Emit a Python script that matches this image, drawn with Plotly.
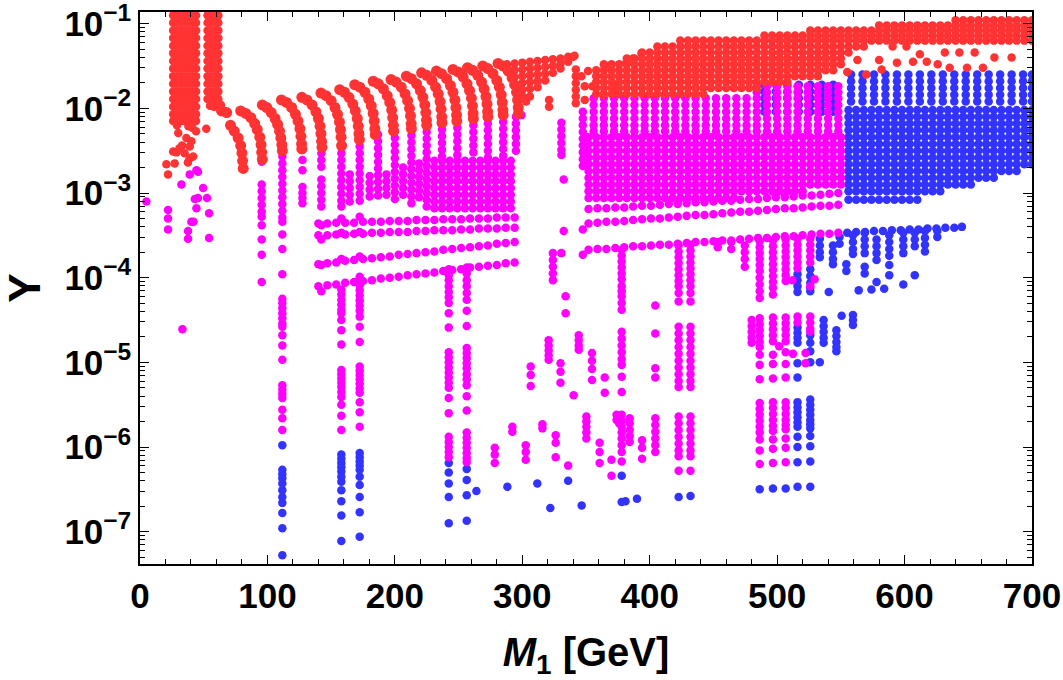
import plotly.graph_objects as go

# x = M1 in GeV, every vertical value below is log10(Y).
RED, MAG, BLUE = "#ff3333", "#ff00ff", "#3333ff"

# ---------------- red points ----------------
red_spike_x = [26, 29, 32, 35, 38, 41, 44]
red_spike_y = [-0.9, -0.99, -1.08, -1.17, -1.26, -1.35, -1.44, -1.53, -1.62, -1.71, -1.8, -1.89, -1.98, -2.07, -2.15]
red_slant_x = [53, 56, 59, 61.5]
red_slant_y = [-0.9, -0.99, -1.08, -1.17, -1.26, -1.35, -1.44, -1.53, -1.62, -1.71, -1.8, -1.89]
red_loose = [(41, -2.23), (44, -2.27), (38, -2.21), (29, -2.2), (20.7, -2.66), (22, -2.78), (26, -2.51),
             (27.2, -2.65), (28.6, -2.52), (30, -2.29), (31, -2.47), (33, -2.44), (35, -2.53), (36.4, -2.35),
             (37.6, -2.64), (39, -2.45), (39, -2.59), (40.3, -2.39), (41.7, -2.57), (52, -2.24),
             (55, -1.97), (58, -1.98), (61, -1.98), (63.5, -1.96),
             (303, -1.92), (321, -1.9), (321, -1.98), (340, -1.39),
             (342, -1.54), (342, -1.62), (342, -1.7), (342, -1.78), (342, -1.86), (342, -1.94),
             (346.4, -1.62), (349, -1.74), (349, -1.9), (351.6, -1.56), (355, -1.74), (363.4, -1.84),
             (590.6, -1.27), (601.5, -1.27), (612, -1.36), (631.6, -1.34), (643, -1.34), (655, -1.34),
             (670.5, -1.4), (684, -1.4), (555, -1.57), (563, -1.43), (570, -1.6), (580, -1.43), (582, -1.54),
             (594, -1.46), (606.6, -1.45), (617.4, -1.45), (626, -1.48), (635.4, -1.52), (649, -1.52), (661.5, -1.52)]
red_arcs = [
    [(64, -2.03), (68, -2.05), (71, -2.2), (74, -2.27), (77, -2.35), (79, -2.44), (80, -2.53), (80.5, -2.62), (81, -2.71)],
    [(79, -2.03), (83, -2.06), (87, -2.11), (90, -2.18), (92, -2.25), (94, -2.34), (95, -2.43), (95.5, -2.52), (96, -2.6)],
    [(96, -1.96), (99.5, -1.99), (103, -2.05), (106, -2.12), (108, -2.19), (109.5, -2.27), (110.5, -2.35), (111.3, -2.43), (111.7, -2.5)],
    [(111, -1.9), (115, -1.93), (119, -1.99), (122, -2.07), (124, -2.15), (125.5, -2.24), (126.3, -2.33), (126.8, -2.42), (127, -2.48)],
    [(127, -1.87), (131, -1.9), (135, -1.96), (138, -2.04), (140, -2.12), (141.3, -2.21), (142, -2.3), (142.5, -2.39), (142.8, -2.46)],
    [(142, -1.82), (146, -1.85), (150, -1.91), (153, -1.99), (155, -2.07), (156.5, -2.16), (157.3, -2.25), (157.8, -2.34), (158.2, -2.44)],
    [(156.7, -1.78), (160.5, -1.81), (164, -1.87), (167, -1.95), (169, -2.03), (170.5, -2.12), (171.3, -2.21), (171.8, -2.3), (172.2, -2.37)],
    [(168.5, -1.72), (172.5, -1.75), (176.5, -1.81), (179.5, -1.89), (181.5, -1.97), (183, -2.06), (183.8, -2.15), (184.3, -2.24), (184.6, -2.31)],
    [(183, -1.68), (187, -1.71), (191, -1.77), (194, -1.85), (196, -1.93), (197.5, -2.02), (198.3, -2.11), (198.8, -2.2), (199, -2.27)],
    [(197, -1.66), (201, -1.69), (205, -1.75), (208, -1.83), (210, -1.91), (211.5, -2.0), (212.3, -2.09), (212.8, -2.18), (213, -2.24)],
    [(209, -1.62), (213, -1.65), (217, -1.71), (220, -1.79), (222, -1.87), (223.5, -1.96), (224.3, -2.05), (224.8, -2.14), (225, -2.2)],
    [(221, -1.58), (225, -1.61), (229, -1.67), (232, -1.75), (234, -1.83), (235.5, -1.92), (236.3, -2.01), (236.8, -2.1), (237, -2.17)],
    [(232.6, -1.56), (236.6, -1.59), (240.6, -1.65), (243.6, -1.73), (245.6, -1.81), (247.1, -1.9), (247.9, -1.99), (248.4, -2.08), (248.6, -2.15)],
    [(245.6, -1.54), (249.6, -1.57), (253.6, -1.63), (256.6, -1.71), (258.6, -1.79), (260.1, -1.88), (260.9, -1.97), (261.4, -2.06), (261.6, -2.12)],
    [(257, -1.52), (261, -1.55), (265, -1.61), (268, -1.69), (270, -1.77), (271.5, -1.86), (272.3, -1.95), (272.8, -2.04), (273, -2.1)],
    [(269, -1.5), (273, -1.53), (277, -1.59), (280, -1.67), (282, -1.75), (283.5, -1.84), (284.3, -1.93), (284.8, -2.02), (285, -2.08)],
    [(281, -1.47), (285, -1.5), (289, -1.56), (292, -1.64), (294, -1.72), (295.5, -1.81), (296.3, -1.9), (296.8, -1.99), (297, -2.06)],
]
red_triangle = [(288, [-1.48, -1.56]), (294, [-1.47, -1.55, -1.63]), (300, [-1.46, -1.54, -1.62, -1.7, -1.78, -1.85]),
                (306, [-1.45, -1.53, -1.61, -1.69, -1.77, -1.86]), (312, [-1.44, -1.52, -1.6, -1.68, -1.75]),
                (318, [-1.43, -1.51, -1.59, -1.67]), (324, [-1.42, -1.5, -1.58]), (330, [-1.41, -1.47, -1.53]),
                (336, [-1.39, -1.45]), (341, [-1.38]),
                (364.7, [-1.5]), (372.5, [-1.72, -1.8]), (381.7, [-1.46]), (386.9, [-1.41]), (393.5, [-1.35])]

# scan lattice of the right half (GeV) and dense rows: (log10 Y, first M1, last M1)
lattice = [346, 352, 358, 364, 370, 376, 382, 388, 394, 400, 406, 412, 418, 424, 430, 436, 442, 448, 454, 460,
           466, 472, 478, 484, 490, 496, 502, 508, 514, 520, 526, 532, 538, 544, 550, 556, 562, 568, 574, 580,
           586, 592, 598, 604, 610, 616, 622, 628, 634, 640, 646, 652, 658, 664, 670, 676, 682, 688, 694, 700]
red_rows = [(-0.96, 640, 700), (-1.02, 580, 700), (-1.08, 526, 700), (-1.14, 490, 700), (-1.2, 424, 700),
            (-1.27, 406, 568), (-1.34, 394, 556), (-1.41, 382, 552), (-1.48, 364, 550), (-1.55, 358, 546),
            (-1.62, 358, 532), (-1.69, 358, 508), (-1.76, 358, 484), (-1.83, 358, 446)]
mag_rows = [(-2.34, 352, 550), (-2.42, 352, 550), (-2.5, 352, 550), (-2.58, 352, 550), (-2.66, 352, 550),
            (-2.74, 352, 550), (-2.82, 352, 550), (-2.9, 352, 550), (-2.98, 352, 520), (-3.06, 352, 470)]
blue_rows = [(-2.02, 556, 700), (-2.1, 556, 700), (-2.18, 556, 700), (-2.26, 556, 700), (-2.34, 556, 700),
             (-2.42, 556, 700), (-2.5, 556, 700), (-2.58, 556, 700), (-2.66, 556, 700), (-2.74, 556, 688),
             (-2.82, 556, 670), (-2.9, 556, 652), (-2.98, 556, 628), (-3.08, 556, 612)]

# ---------------- magenta points ----------------
mag_up_x = [356, 364, 372, 380, 388, 396, 404, 412, 420, 428, 436, 444, 452, 460, 468, 476, 484, 492, 500, 508, 516, 524, 532, 540, 548]
mag_up_y = [-1.88, -1.96, -2.04, -2.12, -2.2, -2.27]
mag_top_x = [484, 492, 500, 508, 516, 524, 532, 540, 548]
mag_top_y = [-1.74, -1.81]
mag_lblock_x = [231, 237, 243, 249, 255, 261, 267, 273, 279, 285, 291]
mag_lblock_y = [-2.62, -2.7, -2.78, -2.86, -2.94, -3.02, -3.1, -3.18]

row_r_x = [352, 359, 366, 373, 380, 387, 394, 401, 408, 415, 422, 429, 436, 443, 450, 457, 464, 471, 478, 485,
           492, 499, 506, 513, 520, 527, 534, 541, 548]
row_a = [-3.19, -3.18, -3.18, -3.17, -3.17, -3.16, -3.15, -3.15, -3.14, -3.13, -3.13, -3.12, -3.11, -3.11, -3.1,
         -3.09, -3.09, -3.08, -3.07, -3.07, -3.06, -3.05, -3.05, -3.04, -3.03, -3.03, -3.02, -3.01, -3.0]
row_b = [-3.36, -3.35, -3.34, -3.34, -3.33, -3.32, -3.31, -3.3, -3.3, -3.29, -3.28, -3.27, -3.26, -3.26, -3.25,
         -3.24, -3.23, -3.22, -3.22, -3.21, -3.2, -3.19, -3.18, -3.18, -3.17, -3.16, -3.15, -3.15, -3.14]
row_c = [-3.67, -3.66, -3.66, -3.65, -3.64, -3.63, -3.63, -3.62, -3.61, -3.61, -3.6, -3.59, -3.58, -3.58, -3.57,
         -3.56, -3.56, -3.55, -3.54, -3.53, -3.53, -3.52, -3.51, -3.51, -3.5, -3.49, -3.48, -3.48, -3.47]
row_l_x = [140, 147, 154, 161, 168, 175, 182, 189, 196, 203, 210, 217, 224, 231, 238, 245, 252, 259, 266, 273, 280, 287, 294]
row_l1 = [-3.36, -3.36, -3.35, -3.35, -3.35, -3.34, -3.34, -3.34, -3.33, -3.33, -3.33, -3.32, -3.32, -3.32, -3.31,
          -3.31, -3.31, -3.3, -3.3, -3.3, -3.29, -3.29, -3.29]
row_l2 = [-3.5, -3.5, -3.49, -3.49, -3.48, -3.48, -3.47, -3.47, -3.46, -3.46, -3.46, -3.45, -3.45, -3.44, -3.44,
          -3.44, -3.43, -3.43, -3.42, -3.42, -3.42, -3.41, -3.41]
row_l3 = [-3.84, -3.83, -3.82, -3.8, -3.79, -3.78, -3.77, -3.76, -3.75, -3.73, -3.72, -3.71, -3.7, -3.69, -3.67,
          -3.66, -3.65, -3.64, -3.63, -3.62, -3.6, -3.59, -3.58]
row_l4 = [-4.1, -4.09, -4.08, -4.06, -4.05, -4.04, -4.03, -4.01, -4.0, -3.99, -3.97, -3.96, -3.95, -3.94, -3.92,
          -3.91, -3.9, -3.88, -3.87, -3.86, -3.85, -3.83, -3.82]

mag_cols = [
    (95.5, [-2.63, -2.9, -2.98, -3.06, -3.14, -3.22, -3.28, -3.38, -3.55, -3.73, -4.05]),
    (111.7, [-2.57, -2.65, -2.73, -2.81, -2.89, -2.97, -3.05, -3.13, -3.21, -3.29, -3.34, -3.49, -3.66, -3.96, -4.25,
             -4.3, -4.36, -4.42, -4.48, -4.54, -4.58, -4.68, -4.8, -4.97, -5.27, -5.32, -5.37, -5.42, -5.56, -5.66, -5.8]),
    (127.5, [-2.49, -2.61, -2.73, -2.93, -3.0, -3.06, -3.12]),
    (142.3, [-2.45, -2.53, -2.61, -2.69, -2.84, -2.92, -3.0, -3.08, -3.16, -3.38, -3.55, -3.85, -4.16]),
    (158, [-2.45, -2.53, -2.61, -2.69, -2.77, -2.85, -2.93, -3.01, -3.09, -3.16, -3.3, -3.47, -3.78, -4.14, -4.2,
           -4.26, -4.32, -4.38, -4.42, -4.5, -4.62, -4.79, -5.09, -5.14, -5.19, -5.24, -5.29, -5.35, -5.41, -5.5, -5.63, -5.8]),
    (164.6, [-2.78, -2.86, -2.94, -3.02, -3.1]),
    (172.4, [-2.37, -2.45, -2.53, -2.61, -2.69, -2.77, -2.85, -2.93, -3.01, -3.09, -3.28, -3.46, -3.75, -3.99, -4.03,
             -4.09, -4.15, -4.21, -4.27, -4.33, -4.39, -4.46, -4.58, -4.76, -5.05, -5.1, -5.15, -5.2, -5.25, -5.31,
             -5.36, -5.47, -5.59, -5.76]),
    (180.2, [-2.8, -2.88, -2.96, -3.04]),
    (186.8, [-2.31, -2.39, -2.47, -2.55, -2.63, -2.71, -2.79, -2.87, -2.95, -3.03]),
    (193.4, [-2.78, -2.86, -2.94, -3.02]),
    (200, [-2.27, -2.35, -2.43, -2.51, -2.59, -2.67, -2.75, -2.83, -2.91, -2.99, -3.07]),
    (206.5, [-2.7, -2.78, -2.86, -2.94, -3.02]),
    (213, [-2.24, -2.32, -2.4, -2.48, -2.56, -2.64, -2.72, -2.8, -2.88, -2.96, -3.04, -3.12]),
    (219, [-2.65, -2.73, -2.81, -2.89, -2.97, -3.05]),
    (225, [-2.2, -2.28, -2.36, -2.44, -2.52, -2.6, -2.68, -2.76, -2.84, -2.92, -3.0, -3.08, -3.16]),
    (237, [-2.17, -2.25, -2.33, -2.41, -2.49, -2.57]),
    (249, [-2.15, -2.23, -2.31, -2.39, -2.47, -2.55]),
    (261.6, [-2.12, -2.2, -2.28, -2.36, -2.44, -2.52]),
    (273, [-2.1, -2.18, -2.26, -2.34, -2.42, -2.5, -2.58]),
    (285, [-2.08, -2.16, -2.24, -2.32, -2.4, -2.48, -2.56]),
    (295, [-2.1, -2.18, -2.26, -2.34, -2.42, -2.5]),
    (242.3, [-3.9, -3.97, -4.03, -4.1, -4.17, -4.23, -4.3, -4.42, -4.59, -4.88, -4.94, -5.0, -5.06, -5.12, -5.18,
             -5.24, -5.3, -5.42, -5.6, -5.88, -5.94, -6.0, -6.06, -6.12]),
    (256.4, [-3.88, -3.95, -4.03, -4.1, -4.18, -4.26, -4.39, -4.57, -4.83, -4.89, -4.95, -5.01, -5.07, -5.14, -5.2,
             -5.27, -5.4, -5.57, -5.83, -5.89, -5.95, -6.01, -6.07, -6.13, -6.18]),
    (299.3, [-2.08]), (330.7, [-2.17, -2.25, -2.33, -2.41, -2.49, -2.55, -3.71]), (332.5, [-2.84, -3.45]),
    (347.5, [-2.04, -2.12, -2.2, -2.28, -2.36, -2.44, -2.52, -2.6, -2.68, -3.43, -3.73]),
    (324, [-3.71, -3.79, -3.87, -3.95, -4.03]), (334, [-4.22, -4.42]),
    (378, [-3.67, -3.74, -3.81, -3.88, -3.95, -4.02, -4.1, -4.16, -4.22, -4.3, -4.38, -4.64, -4.72, -4.8, -4.88,
           -4.96, -5.03, -5.17, -5.35, -5.62, -5.69, -5.76, -5.83, -5.9, -5.98, -6.06, -6.17]),
    (404.4, [-4.33, -4.66, -5.07, -5.18, -5.66, -5.74, -5.82, -5.9, -5.98, -6.06]),
    (422.7, [-3.62, -3.69, -3.76, -3.83, -3.9, -3.97, -4.04, -4.1, -4.18, -4.28, -4.58, -4.66, -4.74, -4.82, -4.9,
             -4.98, -5.06, -5.14, -5.22, -5.29, -5.64, -5.72, -5.8, -5.88, -5.96, -6.04, -6.11, -6.28]),
    (432, [-3.61, -3.68, -3.75, -3.82, -3.89, -3.96, -4.03, -4.1, -4.18, -4.28, -4.58, -4.66, -4.74, -4.82, -4.9,
           -4.98, -5.06, -5.14, -5.22, -5.29, -5.64, -5.72, -5.8, -5.88, -5.96, -6.04, -6.11, -6.28]),
    (453.4, [-3.58, -3.64]), (464, [-3.58, -3.66]), (474.6, [-3.62, -3.7, -3.78, -3.87]),
    (480, [-4.5, -4.57, -4.64, -4.71, -4.77]),
    (486.3, [-3.57, -3.64, -3.71, -3.78, -3.85, -3.92, -4.0, -4.08, -4.16, -4.24, -4.48, -4.55, -4.62, -4.69, -4.76,
             -4.82, -4.91, -5.03, -5.2, -5.48, -5.55, -5.62, -5.69, -5.76, -5.83, -5.91, -6.04, -6.2]),
    (496.7, [-3.56, -3.63, -3.7, -3.77, -3.84, -3.91, -3.98, -4.05, -4.12, -4.2, -4.47, -4.54, -4.61, -4.68, -4.75,
             -4.91, -5.02, -5.19, -5.47, -5.54, -5.61, -5.68, -5.75, -5.81, -5.91, -6.02, -6.19]),
    (506.7, [-3.55, -3.62, -3.69, -3.76, -3.83, -3.9, -3.97, -4.04, -4.47, -4.54, -4.61, -4.68, -4.75, -4.88, -5.02,
             -5.18, -5.47, -5.54, -5.61, -5.68, -5.74, -5.79, -5.9, -6.01, -6.18]),
    (516, [-3.54, -3.61, -3.68, -3.75, -3.82, -3.89, -4.46, -4.53]),
    (526, [-3.54, -3.61, -3.68, -3.75, -3.82, -4.1, -4.46, -4.53, -4.6, -4.64]),
    (501.6, [-4.81]), (512.4, [-4.9]), (522.3, [-4.89, -5.01]), (512, [-4.03]), (529.4, [-4.02]),
]
mag_loose = [(5, -3.1), (22, -3.2), (22, -3.3), (22, -3.43), (32.5, -2.9), (37.7, -3.45), (37.7, -3.54), (39, -2.78),
             (44.3, -2.73), (44.3, -3.18), (45.5, -3.06), (52.6, -3.06), (49.5, -2.94), (40.3, -3.34), (42, -3.34),
             (54.2, -3.24), (54.2, -3.53), (33.3, -4.61), (45.5, -2.75), (43, -3.07),
             (278.4, -6.01), (278.4, -6.09), (278.4, -6.19), (292.2, -5.76), (292.2, -5.82), (302.7, -5.98),
             (302.7, -6.06), (302.7, -6.15), (306.6, -5.05), (306.6, -5.15), (306.6, -5.28), (315.8, -5.73),
             (315.8, -5.78), (320.7, -4.74), (320.7, -4.8), (320.7, -4.86), (320.7, -4.92), (320.7, -4.97),
             (326.2, -5.86), (326.2, -5.95), (326.2, -6.12), (330, -5.01), (330, -5.11), (330, -5.24), (336, -6.22),
             (340.3, -5.39), (344.3, -4.68), (344.3, -4.74), (344.3, -4.8), (344.3, -4.85), (350.3, -5.64),
             (350.3, -5.7), (350.3, -5.76), (350.3, -5.83), (350.3, -5.9), (354.7, -4.89), (354.7, -4.98),
             (354.7, -5.08), (354.7, -5.21), (360.7, -5.95), (360.7, -6.06), (360.7, -6.19), (364.7, -5.18),
             (364.7, -5.36), (370, -6.15), (370, -6.34), (374, -5.62), (374, -5.68), (376, -5.72), (384.3, -5.66),
             (384.3, -5.72), (384.3, -5.8), (384.3, -5.87), (384.3, -5.94), (394, -5.92), (394, -6.01), (394, -6.14)]

# ---------------- blue points ----------------
blue_up_x = [558, 567, 576, 585, 594, 603, 612, 621, 630, 639, 648, 657, 666, 675, 684, 693, 700]
blue_up_y = [-1.6, -1.68, -1.76, -1.84, -1.92]
blue_mid_x = [490, 499, 508, 517, 526, 535, 544]
blue_mid_y = [-1.72, -1.8, -1.88, -1.96, -2.04]
row_c_blue_x = [555, 562, 569, 576, 583, 590, 597, 604, 611, 618, 625, 632, 639, 645]
row_c_blue = [-3.47, -3.46, -3.46, -3.45, -3.45, -3.44, -3.44, -3.43, -3.43, -3.42, -3.42, -3.41, -3.41, -3.4]
blue_cols = [
    (111.7, [-5.98, -6.27, -6.32, -6.37, -6.43, -6.51, -6.59, -6.66, -6.78, -6.96, -7.28]),
    (158, [-6.09, -6.14, -6.19, -6.24, -6.29, -6.35, -6.41, -6.51, -6.64, -6.81, -7.11]),
    (172.4, [-6.07, -6.12, -6.17, -6.22, -6.27, -6.35, -6.45, -6.59, -6.77, -7.06]),
    (242.3, [-6.19, -6.3, -6.43, -6.59, -6.9]),
    (256.4, [-6.26, -6.39, -6.57, -6.87]),
    (378, [-6.34, -6.65]), (381, [-6.64]), (422.7, [-6.59]), (432, [-6.58]),
    (486.3, [-6.5]), (496.7, [-6.49]), (506.7, [-6.49]),
    (516, [-3.96, -4.03, -4.1, -4.17, -4.59, -4.65, -4.71, -4.77, -5.01, -5.18, -5.47, -5.53, -5.59, -5.65, -5.71,
           -5.76, -5.88, -6.0, -6.18, -6.47]),
    (526, [-3.9, -3.98, -4.06, -4.12, -4.16, -4.68, -4.77, -4.87, -5.0, -5.44, -5.5, -5.56, -5.62, -5.68, -5.73,
           -5.78, -5.87, -5.99, -6.17, -6.47]),
    (533.5, [-3.54, -3.62, -3.7, -3.76, -5.0]), (536.5, [-4.5, -4.57, -4.64, -4.71, -4.77]), (540.5, [-4.17]),
    (543.8, [-3.62, -3.7, -3.78, -3.84]), (546.5, [-4.62, -4.69, -4.76, -4.82, -4.87]), (549, [-3.52, -3.6]),
    (550.6, [-4.45]), (554.3, [-3.84, -3.92]), (559.5, [-3.5, -3.58, -3.66, -3.72, -4.44, -4.5, -4.56]),
    (564, [-4.15]), (574, [-4.14]), (584, [-4.13]),
    (568.7, [-3.47, -3.55, -3.63, -3.71, -3.87, -3.95]), (578, [-3.55, -3.63, -3.71, -3.79, -4.05]),
    (588, [-3.5, -3.58, -3.66, -3.74, -3.85, -3.97]), (599, [-3.47, -3.55, -3.63, -3.71, -4.08]),
    (608, [-3.47, -3.55, -3.63, -3.97]), (616, [-3.45, -3.53, -3.61, -3.69]), (625.7, [-3.45, -3.52]),
    (264, [-6.52]), (288.3, [-6.47]), (311.8, [-6.43]), (322, [-6.72]), (336, [-6.4]), (346.6, [-6.69]), (390, [-6.61]),
]


# ---------------- assemble ----------------
def new():
    return {"x": [], "y": []}


def add(acc, x, v):
    acc["x"].append(x)
    acc["y"].append(10 ** v)


def add_grid(acc, xs, vs):
    for x in xs:
        for v in vs:
            add(acc, x, v)


def add_cols(acc, cols):
    for x, vs in cols:
        for v in vs:
            add(acc, x, v)


def add_pairs(acc, pairs):
    for x, v in pairs:
        add(acc, x, v)


def add_rows(acc, rows):
    for v, a, b in rows:
        for x in lattice:
            if a <= x <= b:
                add(acc, x, v)


red, arcs, mag, blue = new(), new(), new(), new()

add_grid(red, red_spike_x, red_spike_y)
add_grid(red, red_slant_x, red_slant_y)
add_pairs(red, red_loose)
for arc in red_arcs:
    add_pairs(arcs, arc)
add_cols(red, red_triangle)
add_rows(red, red_rows)

add_rows(mag, mag_rows)
add_grid(mag, mag_up_x, mag_up_y)
add_grid(mag, mag_top_x, mag_top_y)
add_grid(mag, mag_lblock_x, mag_lblock_y)
for ys in (row_a, row_b, row_c):
    add_pairs(mag, zip(row_r_x, ys))
for ys in (row_l1, row_l2, row_l3, row_l4):
    add_pairs(mag, zip(row_l_x, ys))
add_cols(mag, mag_cols)
add_pairs(mag, mag_loose)

add_rows(blue, blue_rows)
add_grid(blue, blue_up_x, blue_up_y)
add_grid(blue, blue_mid_x, blue_mid_y)
add_pairs(blue, zip(row_c_blue_x, row_c_blue))
add_cols(blue, blue_cols)

fig = go.Figure()
for acc, color, size in ((blue, BLUE, 8.5), (mag, MAG, 8.5), (red, RED, 8.5), (arcs, RED, 11)):
    fig.add_trace(go.Scatter(x=acc["x"], y=acc["y"], mode="markers",
                             marker=dict(color=color, size=size, line=dict(width=0)),
                             hoverinfo="skip"))

y_exps = [-7, -6, -5, -4, -3, -2, -1]
y_ticks = [10.0 ** e for e in y_exps]
y_text = ["10<sup>\u2212%d</sup>" % (-e) for e in y_exps]
y_minor = [k * 10.0 ** e for e in range(-8, 0) for k in range(2, 10)]
x_ticks = [0, 100, 200, 300, 400, 500, 600, 700]
x_minor = [20, 40, 60, 80, 120, 140, 160, 180, 220, 240, 260, 280, 320, 340, 360, 380, 420, 440, 460, 480,
           520, 540, 560, 580, 620, 640, 660, 680]

axis_common = dict(showline=True, linecolor="black", linewidth=1.5, mirror="ticks", ticks="inside",
                   ticklen=9, tickwidth=1.2, tickcolor="black", showgrid=False, zeroline=False,
                   automargin=False, ticklabeloverflow="allow")

fig.update_layout(
    width=1063, height=680,
    margin=dict(l=140, r=31, t=12, b=116),
    plot_bgcolor="white", paper_bgcolor="white",
    showlegend=False,
    font=dict(family="Liberation Sans, Arial, sans-serif", color="black"),
    xaxis=dict(range=[0, 700], tickvals=x_ticks, ticktext=[str(v) for v in x_ticks],
               tickfont=dict(size=35, weight="bold"),
               minor=dict(tickvals=x_minor, ticks="inside", ticklen=5, tickcolor="black", showgrid=False),
               title=dict(text="<i>M</i><sub>1</sub> [GeV]", font=dict(size=40, weight="bold"), standoff=26),
               **axis_common),
    yaxis=dict(type="log", range=[-7.382, -0.862], tickvals=y_ticks, ticktext=y_text,
               tickfont=dict(size=35, weight="bold"),
               minor=dict(tickvals=y_minor, ticks="inside", ticklen=5, tickcolor="black", showgrid=False),
               title=dict(text="Y", font=dict(size=44, weight="bold"), standoff=14),
               **axis_common),
)

fig.write_html("out.html", config={"displayModeBar": False},
               post_script="document.body.style.margin='0px';")
